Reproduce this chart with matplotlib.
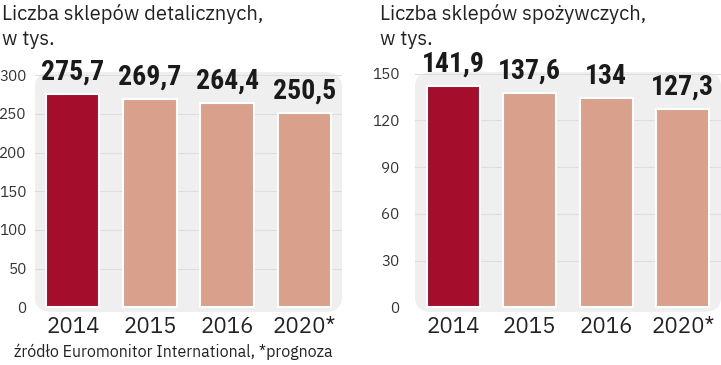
import matplotlib.pyplot as plt
from matplotlib.patches import FancyBboxPatch

# data
years = ['2014', '2015', '2016', '2020*']
retail = [275.7, 269.7, 264.4, 250.5]
grocery = [141.9, 137.6, 134, 127.3]
retail_ticks = [0, 50, 100, 150, 200, 250, 300]
grocery_ticks = [0, 30, 60, 90, 120, 150]

dark_red = '#a50d2c'
salmon = '#d9a08b'
bg = '#efefef'

plt.rcParams['font.family'] = ['IBM Plex Sans', 'Roboto', 'DejaVu Sans']
cond = ['Roboto Condensed', 'Asap Condensed', 'DejaVu Sans']

fig = plt.figure(figsize=(7.21, 3.65), dpi=100)


def panel(rect, values, ticks, ylim, xlim, pad, title, tx):
    ax = fig.add_axes(rect)
    ax.set_xlim(*xlim)
    ax.set_ylim(*ylim)
    ax.patch.set_visible(False)
    for s in ax.spines.values():
        s.set_visible(False)
    # rounded grey background
    ax.add_patch(FancyBboxPatch((0.02, 0.02), 0.96, 0.96, boxstyle='round,pad=0.02,rounding_size=0.06',
                                transform=ax.transAxes, facecolor=bg, edgecolor='none', zorder=0,
                                clip_on=False))
    for t in ticks[1:]:
        ax.axhline(t, color='#dddddd', lw=0.8, zorder=1)
    colors = [dark_red] + [salmon] * (len(values) - 1)
    bars = ax.bar(range(len(values)), values, width=0.69, color=colors,
                  edgecolor='white', linewidth=1.5, zorder=2)
    for b, v in zip(bars, values):
        ax.annotate(f'{v:g}'.replace('.', ','), (b.get_x() + b.get_width() / 2, v),
                    xytext=(0, 6), textcoords='offset points', ha='center', va='bottom',
                    fontsize=20, fontweight='bold', family=cond, color='#1a1a1a')
    ax.set_xticks(range(len(values)))
    ax.set_xticklabels(years, fontsize=16, color='#222222')
    ax.set_yticks(ticks)
    ax.set_yticklabels([str(t) for t in ticks], fontsize=11, fontweight=300, color='#333333')
    ax.tick_params(length=0)
    ax.tick_params(axis='y', pad=pad)
    ax.tick_params(axis='x', pad=3)
    fig.text(tx, 1 - 4 / 365, title, fontsize=14.5, fontweight=300, color='#222222',
             va='top', linespacing=1.4)
    return ax


panel([35 / 721, 53 / 365, 307 / 721, 240 / 365], retail, retail_ticks, (-6, 304),
      (-0.49, 3.49), 6, 'Liczba sklepów detalicznych,\nw tys.', 2 / 721)
panel([415 / 721, 53 / 365, 306 / 721, 240 / 365], grocery, grocery_ticks, (-3, 151),
      (-0.5, 3.5), 11, 'Liczba sklepów spożywczych,\nw tys.', 380 / 721)

fig.text(14 / 721, 8 / 365, 'źródło Euromonitor International, *prognoza', fontsize=11.5,
         fontweight=300, color='#222222', va='baseline')

fig.savefig('out.png', dpi=100)
